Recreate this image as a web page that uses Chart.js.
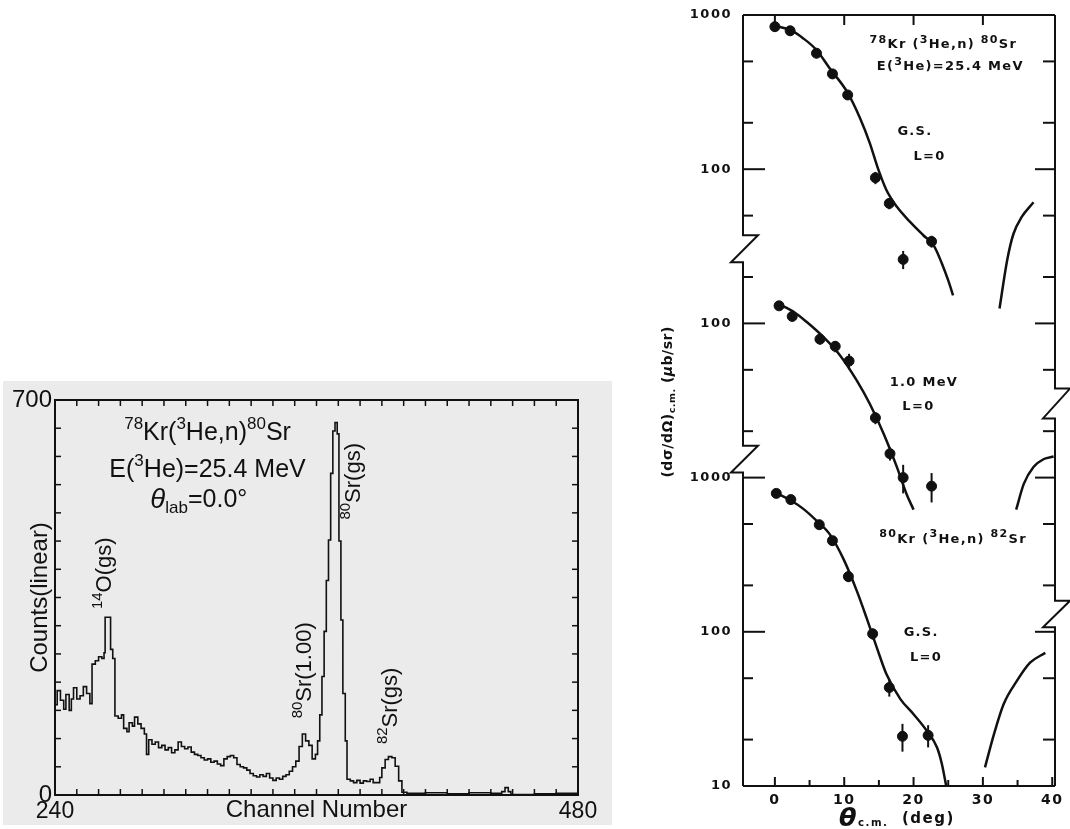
<!DOCTYPE html>
<html>
<head>
<meta charset="utf-8">
<script src="https://cdn.jsdelivr.net/npm/chart.js@4.4.1/dist/chart.umd.min.js"></script>
<style>
  body { margin: 0; background: #fff; width: 1070px; height: 829px; position: relative; overflow: hidden; }
  #specBox { position: absolute; left: 3px; top: 381px; width: 609px; height: 444px; background: #ebebeb; }
  #xsecBox { position: absolute; left: 630px; top: 0; width: 440px; height: 829px; }
</style>
</head>
<body>
<div id="specBox"><canvas id="spectrum" width="609" height="444"></canvas></div>
<div id="xsecBox"><canvas id="xsec" width="440" height="829"></canvas></div>
<script>
// left panel: 78Kr(3He,n)80Sr neutron spectrum at 0 deg
const specChannels = [240, 241, 242.5, 244, 245, 246.5, 247.5, 248.5, 250, 251.5, 253, 254.5, 256, 257, 258.5, 260, 261.5, 262.5, 263, 265.5,
  266.5, 267.5, 269, 270.5, 271.5, 273, 274, 275.5, 276.5, 278, 279.5, 281, 282, 283, 284.5, 286, 287.5, 289, 290.5, 292,
  293.5, 295, 296.5, 298, 299.5, 301, 302.5, 304, 305.5, 307, 308.5, 310, 311.5, 313, 314.5, 316, 317.5, 319, 320.5, 322,
  323.5, 325, 326.5, 328, 329.5, 331, 332.5, 334, 335.5, 337, 338.5, 340, 341.5, 343, 344.5, 346, 347.5, 349, 350.5, 352,
  353.5, 355, 356.5, 358, 359.5, 360.5, 361.5, 362.5, 363.5, 364.5, 365.5, 366.5, 367.5, 368.5, 369.5, 370.3, 371.2, 372.1, 373.2, 374,
  375.5, 377, 378.5, 380, 381.5, 383, 384.6, 386, 387.7, 389, 390, 391.5, 393, 394.6, 396.1, 397.7, 399.2, 401.5, 410, 420,
  430, 440, 445, 446.5, 448, 449.2, 460, 470, 480];
const specCounts = [160, 185, 168, 152, 178, 150, 170, 190, 170, 176, 192, 180, 162, 232, 238, 245, 242, 252, 315, 258,
  242, 140, 136, 142, 118, 112, 128, 122, 138, 126, 118, 108, 72, 98, 90, 94, 84, 88, 80, 84,
  75, 80, 94, 86, 82, 85, 76, 72, 70, 66, 62, 64, 58, 60, 55, 52, 64, 68, 70, 66,
  54, 50, 48, 44, 38, 34, 32, 36, 33, 38, 30, 26, 30, 28, 33, 36, 42, 50, 60, 86,
  108, 96, 88, 64, 72, 96, 142, 210, 290, 380, 452, 570, 645, 660, 640, 450, 310, 180, 96, 28,
  25, 22, 26, 21, 25, 24, 28, 22, 22, 31, 48, 63, 68, 66, 51, 25, 5, 3, 4, 2,
  4, 3, 6, 13, 6, 1, 2, 3, 2];
const specXLabels = [240, 480];
const specYLabels = [0, 700];

// right panel: angular distributions, three blocks stacked on one log axis
const blockShift = [1, 0.1, 0.001];

const gsAngles = [0, 2.2, 6.0, 8.3, 10.5, 14.5, 16.5, 18.5, 22.6];
const gsValues = [840, 790, 565, 415, 303, 88, 60, 26, 34];
const gsErrors = [60, 55, 40, 30, 22, 8, 5, 3.5, 3];
const gsCurveAngles = [0, 2.2, 4.1, 6.0, 7.9, 10.4, 12.3, 13.7, 14.9, 16.1, 17.6, 19.5, 21.4, 22.9, 24.1, 25.0, 25.7];
const gsCurveValues = [850, 800, 705, 593, 451, 318, 213, 147, 100, 73, 57, 45.5, 37.3, 32.1, 24.4, 19.0, 15.2];
const gsTailAngles = [32.4, 33.5, 34.4, 35.6, 37.3];
const gsTailValues = [12.5, 25.7, 38, 49, 61];

const exAngles = [0.6, 2.5, 6.5, 8.7, 10.7, 14.5, 16.6, 18.5, 22.6];
const exValues = [130, 111, 79, 71, 57, 24.4, 14.3, 10, 8.8];
const exErrors = [8, 8, 6, 6, 6.5, 2.2, 1.4, 2.1, 1.9];
const exCurveAngles = [0.5, 2.7, 4.6, 7.0, 9.4, 11.8, 13.7, 15.7, 17.6, 19.0, 20.0];
const exCurveValues = [134, 119, 102, 81.5, 62, 42.7, 30, 19.2, 11.7, 7.8, 6.2];
const exTailAngles = [34.8, 35.9, 37.3, 38.8, 40.2];
const exTailValues = [6.2, 9.1, 11.7, 13.2, 13.7];

const sr82Angles = [0.2, 2.3, 6.4, 8.3, 10.6, 14.1, 16.5, 18.4, 22.1];
const sr82Values = [790, 720, 495, 390, 228, 97, 43.5, 21, 21.3];
const sr82Errors = [50, 50, 35, 28, 18, 8, 5.5, 4.3, 3.5];
const sr82CurveAngles = [0.3, 2.3, 4.1, 6.0, 7.9, 9.9, 11.8, 13.2, 14.7, 16.1, 18.1, 20.0, 21.9, 23.4, 24.1, 24.8];
const sr82CurveValues = [790, 710, 627, 526, 430, 296, 185, 124, 79, 53, 36.6, 29.2, 22.8, 17.7, 13.8, 9.5];
const sr82TailAngles = [30.3, 31.6, 33.0, 34.9, 36.8, 39.0];
const sr82TailValues = [13.2, 21.7, 34, 48, 63, 73];

const xsYTicks = [0.01, 0.1, 1, 10, 100, 1000];
const xsYLabels = ['10', '100', '1000', '100', '100', '1000'];
const xsXTicks = [0, 10, 20, 30, 40];
const leftBreaks = [[37.3, 24.9], [1.61, 1.08]];
const rightBreaks = [[3.78, 2.42], [0.159, 0.107]];

Chart.defaults.color = '#111';
const sans = '"Liberation Sans", Arial, sans-serif';
const bold = '"DejaVu Sans", Verdana, sans-serif';

function richText(ctx, parts, x, y, o) {
  const fontOf = p => {
    let s = o.size * (p[2] || 1);
    if (p[1] === 'sup' || p[1] === 'sub') s *= (o.small || 0.68);
    return (p[1] === 'it' ? 'italic ' : '') + (o.weight || 'normal') + ' ' + s + 'px ' + o.family;
  };
  ctx.save();
  ctx.translate(x, y);
  if (o.rot) ctx.rotate(-Math.PI / 2);
  ctx.fillStyle = '#111';
  ctx.textBaseline = 'middle';
  ctx.textAlign = 'left';
  ctx.letterSpacing = (o.ls || 0) + 'px';
  let w = 0;
  parts.forEach(p => { ctx.font = fontOf(p); w += ctx.measureText(p[0]).width; });
  let cx = -w / 2;
  parts.forEach(p => {
    ctx.font = fontOf(p);
    const dy = p[1] === 'sup' ? -o.size * 0.36 : p[1] === 'sub' ? o.size * 0.32 : 0;
    ctx.fillText(p[0], cx, dy);
    cx += ctx.measureText(p[0]).width;
  });
  ctx.restore();
}

function line(ctx, x1, y1, x2, y2) {
  ctx.beginPath(); ctx.moveTo(x1, y1); ctx.lineTo(x2, y2); ctx.stroke();
}

// ---------- spectrum ----------
const specNotes = [
  {ch: 310, n: 641, size: 25, parts: [['78', 'sup'], ['Kr(', ''], ['3', 'sup'], ['He,n)', ''], ['80', 'sup'], ['Sr', '']]},
  {ch: 310, n: 576, size: 25, parts: [['E(', ''], ['3', 'sup'], ['He)=25.4 MeV', '']]},
  {ch: 306, n: 523, size: 25, parts: [['θ', 'it', 1.1], ['lab', 'sub'], ['=0.0°', '']]},
  {ch: 263.1, n: 393, size: 22, rot: true, parts: [['14', 'sup'], ['O(gs)', '']]},
  {ch: 354.9, n: 221, size: 22, rot: true, parts: [['80', 'sup'], ['Sr(1.00)', '']]},
  {ch: 377.1, n: 556, size: 22, rot: true, parts: [['80', 'sup'], ['Sr(gs)', '']]},
  {ch: 394.2, n: 158, size: 22, rot: true, parts: [['82', 'sup'], ['Sr(gs)', '']]}
];

const specFrame = {
  id: 'specFrame',
  afterDraw(chart) {
    const {ctx, chartArea: a, scales: {x, y}} = chart;
    ctx.save();
    ctx.strokeStyle = '#111';
    ctx.lineWidth = 2;
    ctx.strokeRect(a.left, a.top, a.right - a.left, a.bottom - a.top);
    ctx.lineWidth = 1.5;
    for (let v = 50; v < 700; v += 50) {
      const py = y.getPixelForValue(v);
      line(ctx, a.left, py, a.left + 6, py);
      line(ctx, a.right, py, a.right - 6, py);
    }
    for (let c = 250; c < 480; c += 10) {
      const px = x.getPixelForValue(c);
      line(ctx, px, a.bottom, px, a.bottom - 6);
      line(ctx, px, a.top, px, a.top + 6);
    }
    ctx.restore();
    specNotes.forEach(t => {
      richText(ctx, t.parts, x.getPixelForValue(t.ch), y.getPixelForValue(t.n),
        {size: t.size, family: sans, rot: t.rot});
    });
  }
};

new Chart(document.getElementById('spectrum'), {
  type: 'line',
  data: {
    datasets: [{
      data: specChannels.map((c, i) => ({x: c, y: specCounts[i]})),
      stepped: true,
      borderColor: '#111',
      borderWidth: 1.6,
      pointRadius: 0,
      fill: false
    }]
  },
  options: {
    responsive: false,
    animation: false,
    events: [],
    layout: {padding: {left: 5, top: 19, right: 34, bottom: 0}},
    plugins: {legend: {display: false}, tooltip: {enabled: false}},
    scales: {
      x: {
        type: 'linear', min: 240, max: 480,
        grid: {display: false, drawTicks: false}, border: {display: false},
        afterBuildTicks: s => { s.ticks = specXLabels.map(v => ({value: v})); },
        afterFit: s => { s.height = 30; s.paddingLeft = 0; s.paddingRight = 0; },
        ticks: {padding: 3, maxRotation: 0, autoSkip: false, font: {size: 23, family: sans}},
        title: {display: true, text: 'Channel Number', padding: 0, font: {size: 24, family: sans}}
      },
      y: {
        type: 'linear', min: 0, max: 700,
        grid: {display: false, drawTicks: false}, border: {display: false},
        afterBuildTicks: s => { s.ticks = specYLabels.map(v => ({value: v})); },
        afterFit: s => { s.width = 47; s.paddingTop = 0; s.paddingBottom = 0; },
        ticks: {padding: 3, font: {size: 24, family: sans}},
        title: {display: true, text: 'Counts(linear)', padding: {top: 18, bottom: 0}, font: {size: 24, family: sans}}
      }
    }
  },
  plugins: [specFrame]
});

// ---------- angular distributions ----------
function pts(xs, ys, k) {
  return xs.map((v, i) => ({x: v, y: ys[i] * blockShift[k]}));
}
function dots(xs, ys, errs, k) {
  return {
    type: 'scatter', data: pts(xs, ys, k), errs: errs.map(e => e * blockShift[k]),
    pointRadius: 5, pointBackgroundColor: '#111', pointBorderColor: '#111', showLine: false
  };
}
function curve(xs, ys, k) {
  return {
    type: 'line', data: pts(xs, ys, k), borderColor: '#111', borderWidth: 2.5,
    pointRadius: 0, cubicInterpolationMode: 'monotone', fill: false
  };
}

const xsNotes = [
  {deg: 24.3, v: 640, k: 0, parts: [['78', 'sup'], ['Kr (', ''], ['3', 'sup'], ['He,n) ', ''], ['80', 'sup'], ['Sr', '']]},
  {deg: 25.3, v: 460, k: 0, parts: [['E(', ''], ['3', 'sup'], ['He)=25.4 MeV', '']]},
  {deg: 20.2, v: 175, k: 0, parts: [['G.S.', '']]},
  {deg: 22.3, v: 120, k: 0, parts: [['L=0', '']]},
  {deg: 21.5, v: 41.4, k: 1, parts: [['1.0 MeV', '']]},
  {deg: 20.7, v: 28.9, k: 1, parts: [['L=0', '']]},
  {deg: 25.7, v: 398, k: 2, parts: [['80', 'sup'], ['Kr (', ''], ['3', 'sup'], ['He,n) ', ''], ['82', 'sup'], ['Sr', '']]},
  {deg: 21.1, v: 99.3, k: 2, parts: [['G.S.', '']]},
  {deg: 21.8, v: 67.5, k: 2, parts: [['L=0', '']]}
];

function drawSide(ctx, xp, a, breaks, y) {
  ctx.beginPath();
  ctx.moveTo(xp, a.top);
  breaks.forEach(b => {
    const y1 = y.getPixelForValue(b[0]), y2 = y.getPixelForValue(b[1]);
    ctx.lineTo(xp, y1); ctx.lineTo(xp + 15, y1); ctx.lineTo(xp - 12, y2); ctx.lineTo(xp, y2);
  });
  ctx.lineTo(xp, a.bottom);
  ctx.stroke();
}

const xsFrame = {
  id: 'xsFrame',
  beforeDraw(chart) {
    chart.ctx.letterSpacing = '1.5px';
  },
  afterDatasetsDraw(chart) {
    const {ctx, chartArea: a, scales: {x, y}} = chart;
    ctx.save();
    ctx.strokeStyle = '#111';
    ctx.lineWidth = 2;
    chart.data.datasets.forEach(ds => {
      if (!ds.errs) return;
      ds.data.forEach((p, i) => {
        const px = x.getPixelForValue(p.x);
        line(ctx, px, y.getPixelForValue(p.y + ds.errs[i]), px, y.getPixelForValue(p.y - ds.errs[i]));
      });
    });
    line(ctx, a.left, a.top, a.right, a.top);
    line(ctx, a.left, a.bottom, a.right, a.bottom);
    drawSide(ctx, a.left, a, leftBreaks, y);
    drawSide(ctx, a.right, a, rightBreaks, y);
    for (let d = 0; d <= 40; d += 5) {
      const px = x.getPixelForValue(d);
      line(ctx, px, a.bottom, px, a.bottom - (d % 10 === 0 ? 9 : 6));
      if (d % 10 === 0 && d < 40) line(ctx, px, a.top, px, a.top + 10);
    }
    for (let e = -2; e <= 3; e++) {
      [1, 2, 5].forEach(m => {
        const v = m * Math.pow(10, e);
        if (v > 1000) return;
        const py = y.getPixelForValue(v);
        const big = m === 1;
        line(ctx, a.left, py, a.left + (big ? 22 : 10), py);
        line(ctx, a.right, py, a.right - (big ? 20 : 12), py);
      });
    }
    ctx.restore();
    xsNotes.forEach(t => {
      richText(ctx, t.parts, x.getPixelForValue(t.deg), y.getPixelForValue(t.v * blockShift[t.k]),
        {size: 13, family: bold, weight: 'bold', ls: 1.3, small: 0.85});
    });
    richText(ctx, [['(dσ/dΩ)', ''], ['c.m.', 'sub'], [' (', ''], ['μ', 'it'], ['b/sr)', '']],
      a.left - 75, y.getPixelForValue(3.1), {size: 14, family: bold, weight: 'bold', rot: true, ls: 0.5});
    richText(ctx, [['θ', 'it', 1.7], ['c.m.', 'sub'], ['  (deg)', '']],
      x.getPixelForValue(17.6), a.bottom + 33, {size: 15, family: bold, weight: 'bold', ls: 1.5});
  }
};

new Chart(document.getElementById('xsec'), {
  data: {
    datasets: [
      curve(gsCurveAngles, gsCurveValues, 0),
      curve(gsTailAngles, gsTailValues, 0),
      dots(gsAngles, gsValues, gsErrors, 0),
      curve(exCurveAngles, exCurveValues, 1),
      curve(exTailAngles, exTailValues, 1),
      dots(exAngles, exValues, exErrors, 1),
      curve(sr82CurveAngles, sr82CurveValues, 2),
      curve(sr82TailAngles, sr82TailValues, 2),
      dots(sr82Angles, sr82Values, sr82Errors, 2)
    ]
  },
  options: {
    responsive: false,
    animation: false,
    events: [],
    layout: {padding: {left: 0, top: 15, right: 15, bottom: 0}},
    plugins: {legend: {display: false}, tooltip: {enabled: false}},
    scales: {
      x: {
        type: 'linear', min: -4.6, max: 40.4,
        grid: {display: false, drawTicks: false}, border: {display: false},
        afterBuildTicks: s => { s.ticks = xsXTicks.map(v => ({value: v})); },
        afterFit: s => { s.height = 43; s.paddingLeft = 0; s.paddingRight = 0; },
        ticks: {padding: 6, maxRotation: 0, autoSkip: false, font: {size: 14, weight: 'bold', family: bold}}
      },
      y: {
        type: 'logarithmic', min: 0.01, max: 1000,
        grid: {display: false, drawTicks: false}, border: {display: false},
        afterBuildTicks: s => { s.ticks = xsYTicks.map(v => ({value: v})); },
        afterFit: s => { s.width = 113; s.paddingTop = 0; s.paddingBottom = 0; },
        ticks: {padding: 11, autoSkip: false, callback: (v, i) => xsYLabels[i], font: {size: 13, weight: 'bold', family: bold}}
      }
    }
  },
  plugins: [xsFrame]
});
</script>
</body>
</html>
